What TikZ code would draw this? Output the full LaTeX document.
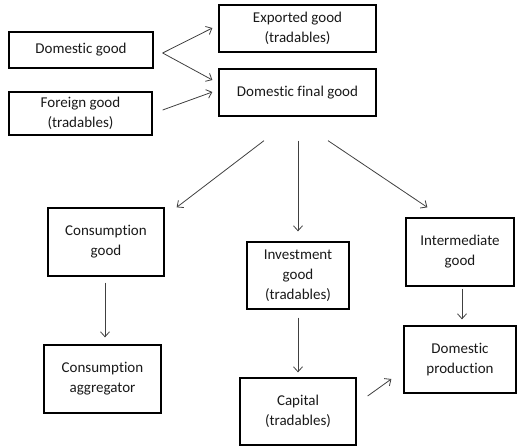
\documentclass[tikz,border=0pt]{standalone}
\usepackage{fontspec}
\setmainfont{Carlito}[Ligatures=CommonOff]
\usetikzlibrary{arrows.meta,calc}
\tikzset{
  box/.style={draw=black,line width=1.3pt,align=center,inner sep=0pt,font=\fontsize{15}{20}\selectfont,text=black!90},
  arr/.style={draw=black!75,line width=0.8pt,-{Straight Barb[length=5pt,width=9pt]}}
}
\begin{document}
\begin{tikzpicture}[x=1pt,y=-1pt]
\useasboundingbox (0,0) rectangle (517,446);
\node[box,minimum width=144pt,minimum height=36pt] (dg) at (81,50) {Domestic good};
\node[box,minimum width=143pt,minimum height=43pt] (fg) at (80.5,113.5) {Foreign good\\(tradables)};
\node[box,minimum width=157pt,minimum height=47pt] (ex) at (297.5,28.5) {Exported good\\(tradables)};
\node[box,minimum width=157pt,minimum height=47pt] (df) at (297.5,92.5) {Domestic final good};
\node[box,minimum width=116pt,minimum height=68pt] (cg) at (106,242) {Consumption\\good};
\node[box,minimum width=102pt,minimum height=67pt] (ig) at (298,275.5) {Investment\\good\\(tradables)};
\node[box,minimum width=108pt,minimum height=68pt] (im) at (460,252) {Intermediate\\good};
\node[box,minimum width=117pt,minimum height=68pt] (ca) at (102.5,379) {Consumption\\aggregator};
\node[box,minimum width=116pt,minimum height=67pt] (cap) at (298,411.5) {Capital\\(tradables)};
\node[box,minimum width=112pt,minimum height=67pt] (dp) at (460,359.5) {Domestic\\production};
\draw[arr] ($(dg.east)+(9,3)$) -- ($(ex.west)+(-6,-0.5)$);
\draw[arr] ($(dg.east)+(9,3)$) -- ($(df.west)+(-6,-12.5)$);
\draw[arr] ($(fg.east)+(10,-3.5)$) -- ($(df.west)+(-6,-0.5)$);
\draw[arr] ($(df.south)+(-33.5,24)$) -- ($(cg.north east)+(12,0)$);
\draw[arr] ($(df.south)+(0.5,24)$) -- ($(ig.north)+(0,-10)$);
\draw[arr] ($(df.south)+(30.5,24)$) -- ($(im.north west)+(22,-10)$);
\draw[arr] ($(cg.south)+(-1,6)$) -- ($(ca.north)+(2.5,-7)$);
\draw[arr] ($(ig.south)+(0,8)$) -- ($(cap.north)+(0,-5)$);
\draw[arr] ($(im.south)+(2,2)$) -- ($(dp.north)+(2,-6)$);
\draw[arr] ($(cap.east)+(11,-15.5)$) -- ($(dp.west)+(-12,19.5)$);
\end{tikzpicture}
\end{document}
